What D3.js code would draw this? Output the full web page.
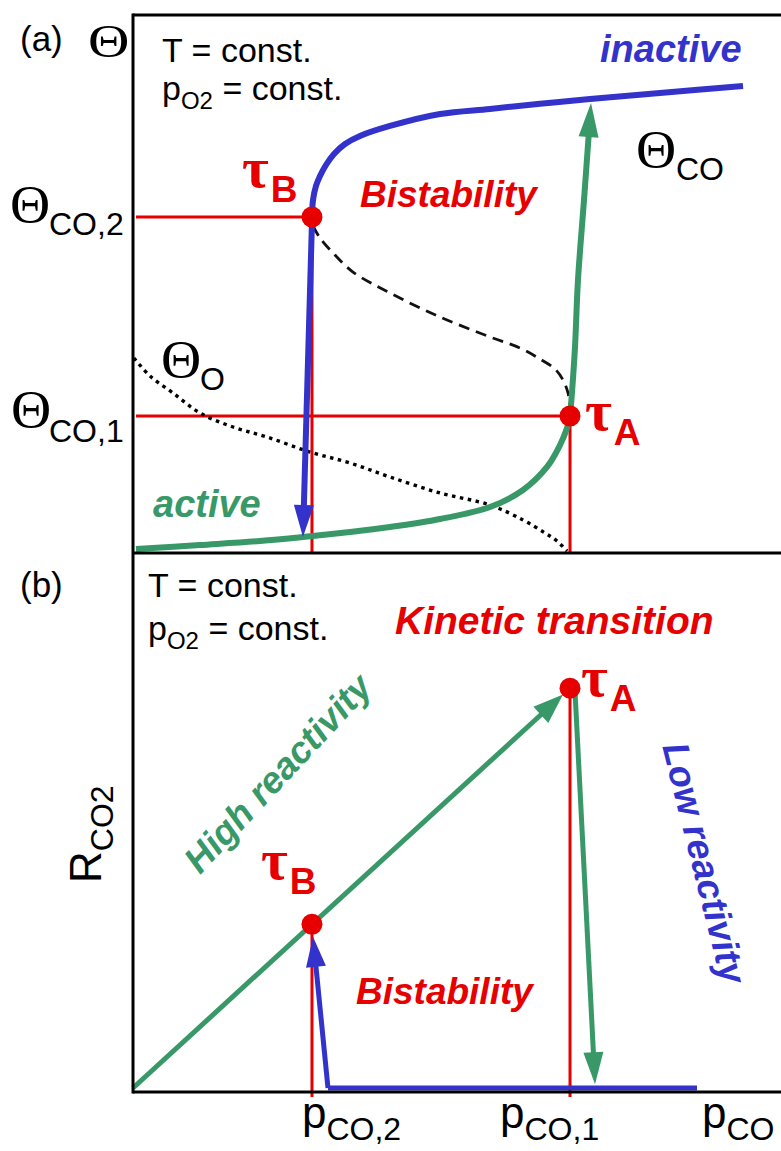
<!DOCTYPE html>
<html>
<head>
<meta charset="utf-8">
<script src="https://cdn.jsdelivr.net/npm/d3@7"></script>
<style>
  body { margin: 0; background: #fff; }
  svg { display: block; }
</style>
</head>
<body>
<svg id="chart" width="781" height="1151"></svg>
<script>
// ---- Data (normalised units: p_CO in [0,1], coverage / rate in [0,1]) ----
// critical points
const pCO2 = 0.2762;          // tau_B position
const pCO1 = 0.6744;          // tau_A position
const thetaCO2 = 0.6245;      // coverage at tau_B
const thetaCO1 = 0.2546;      // coverage at tau_A
const rateA = 0.746;          // CO2 rate at tau_A
const rateB = rateA * pCO2 / pCO1;   // rate at tau_B, on the linear high-reactivity branch

// (a) inactive (CO-poisoned) branch
const inactiveP     = [0.2762, 0.2778, 0.2824, 0.2886, 0.2978, 0.3102, 0.3272, 0.3503, 0.3966, 0.4738, 0.5509, 0.6281, 0.7052, 0.8133, 0.9414];
const inactiveTheta = [0.6245, 0.6561, 0.6822, 0.7007, 0.7212, 0.7416, 0.7602, 0.7751, 0.7937, 0.8160, 0.8254, 0.8350, 0.8439, 0.8550, 0.8680];

// (a) active branch
const activeP     = [0.0046, 0.1034, 0.1960, 0.2623, 0.3349, 0.3966, 0.4738, 0.5509, 0.6019, 0.6389, 0.6590, 0.6698, 0.6744];
const activeTheta = [0.0074, 0.0149, 0.0223, 0.0297, 0.0390, 0.0483, 0.0632, 0.0855, 0.1171, 0.1599, 0.2007, 0.2323, 0.2546];

// (a) jump from active to inactive at tau_A
const jumpUpP     = [0.6744, 0.6775, 0.6821, 0.6867, 0.6960, 0.7068];
const jumpUpTheta = [0.2546, 0.2993, 0.3829, 0.5074, 0.6561, 0.8364];

// (a) jump from inactive to active at tau_B
const jumpDownP     = [0.2762, 0.2623];
const jumpDownTheta = [0.6152, 0.0297];

// (a) unstable branch
const unstableP     = [0.2778, 0.2886, 0.3117, 0.3395, 0.3966, 0.4738, 0.5509, 0.5972, 0.6281, 0.6512, 0.6636, 0.6713, 0.6744];
const unstableTheta = [0.6078, 0.5855, 0.5539, 0.5223, 0.4833, 0.4387, 0.4015, 0.3810, 0.3606, 0.3420, 0.3216, 0.2974, 0.2658];

// (a) oxygen coverage
const oxygenP     = [0.0015, 0.0262, 0.0617, 0.1034, 0.1543, 0.2068, 0.2731, 0.3349, 0.3966, 0.4738, 0.5509, 0.6019, 0.6358, 0.6543, 0.6698];
const oxygenTheta = [0.3625, 0.3290, 0.2974, 0.2602, 0.2342, 0.2156, 0.1877, 0.1673, 0.1413, 0.1115, 0.0892, 0.0613, 0.0372, 0.0223, 0.0037];

// (b) CO2 formation rate
const highRateP = [0, 0.6636];                 // along R = k p up to tau_A
const lowRateP  = [0.3009, 0.8704];            // poisoned surface, R ~ 0
const dropP     = [0.6821, 0.7130];            // fall at tau_A
const dropR     = [0.7400, 0.0070];
const riseP     = [0.3009, 0.2778];            // recovery at tau_B
const riseR     = [0.0000, 0.2820];

// x-axis labels (subscripts) and their positions
const xLabelSubs = ["CO,2", "CO,1", "CO"];
const xLabelPos  = [0.2608, 0.5664, 0.8781];

// ---- Layout ----
const svg = d3.select("#chart");
const RED = "#e60000", BLUE = "#3333cc", GREEN = "#389868";
const SANS = "'Liberation Sans', Arial, Helvetica, sans-serif";
const SERIF = "'Liberation Serif', 'Times New Roman', serif";

const x  = d3.scaleLinear().domain([0, 1]).range([133, 781]);
const yA = d3.scaleLinear().domain([0, 1]).range([553, 15]);
const yB = d3.scaleLinear().domain([0, 1]).range([1088, 552]);

const zip = (a, b) => a.map((v, i) => [v, b[i]]);

function toPx(ps, ys, yScale) { return ps.map((p, i) => [x(p), yScale(ys[i])]); }

// draws a path whose last point is an arrow tip, with a filled triangular head
function arrowPath(g, pts, color, width, headLen, headW, curve) {
  const n = pts.length;
  const tip = pts[n - 1], prev = pts[n - 2];
  const dx = tip[0] - prev[0], dy = tip[1] - prev[1];
  const L = Math.hypot(dx, dy), ux = dx / L, uy = dy / L;
  const base = [tip[0] - ux * headLen, tip[1] - uy * headLen];
  const shaft = pts.slice(0, n - 1).concat([[base[0] + ux * 3, base[1] + uy * 3]]);
  g.append("path")
    .attr("d", d3.line().curve(curve || d3.curveLinear)(shaft))
    .attr("fill", "none").attr("stroke", color).attr("stroke-width", width);
  const nx = -uy, ny = ux;
  g.append("path")
    .attr("d", `M${tip[0]},${tip[1]}L${base[0] + nx * headW / 2},${base[1] + ny * headW / 2}L${base[0] - nx * headW / 2},${base[1] - ny * headW / 2}Z`)
    .attr("fill", color);
}

function richText(g, px, py, runs, fill, extra) {
  const t = g.append("text").attr("x", px).attr("y", py).attr("fill", fill || "#000");
  runs.forEach(r => {
    const s = t.append("tspan").text(r.text)
      .attr("font-size", r.size)
      .attr("font-family", r.family || SANS);
    if (r.weight) s.attr("font-weight", r.weight);
    if (r.style) s.attr("font-style", r.style);
    if (r.dy) s.attr("dy", r.dy);
    if (r.dx) s.attr("dx", r.dx);
  });
  if (extra) extra(t);
  return t;
}

// serif theta (slightly widened), optionally followed by a sans subscript
function thetaLabel(g, px, py, size, stretch, sub, subX, subY) {
  g.append("text")
    .attr("transform", `translate(${px},${py}) scale(${stretch},1)`)
    .attr("font-family", SERIF).attr("font-size", size)
    .attr("fill", "#000")
    .text("Θ");
  if (sub) {
    g.append("text").attr("x", subX).attr("y", subY)
      .attr("font-family", SANS).attr("font-size", 32).attr("fill", "#000")
      .text(sub);
  }
}

const gA = svg.append("g");
const gB = svg.append("g");

// ---- Panel (a): coverage vs p_CO ----
// guide lines to the critical points
gA.append("line").attr("x1", x(0) + 3).attr("x2", x(pCO2)).attr("y1", yA(thetaCO2)).attr("y2", yA(thetaCO2))
  .attr("stroke", RED).attr("stroke-width", 3);
gA.append("line").attr("x1", x(pCO2)).attr("x2", x(pCO2)).attr("y1", yA(thetaCO2)).attr("y2", yA(0))
  .attr("stroke", RED).attr("stroke-width", 3);
gA.append("line").attr("x1", x(0) + 3).attr("x2", x(pCO1)).attr("y1", yA(thetaCO1)).attr("y2", yA(thetaCO1))
  .attr("stroke", RED).attr("stroke-width", 3);
gA.append("line").attr("x1", x(pCO1)).attr("x2", x(pCO1)).attr("y1", yA(thetaCO1)).attr("y2", yA(0))
  .attr("stroke", RED).attr("stroke-width", 3);

// oxygen coverage (dotted)
gA.append("path")
  .attr("d", d3.line().curve(d3.curveCatmullRom)(toPx(oxygenP, oxygenTheta, yA)))
  .attr("fill", "none").attr("stroke", "#000").attr("stroke-width", 3.4)
  .attr("stroke-dasharray", "3.5,4.5");

// unstable branch (dashed)
gA.append("path")
  .attr("d", d3.line().curve(d3.curveCatmullRom)(toPx(unstableP, unstableTheta, yA)))
  .attr("fill", "none").attr("stroke", "#111").attr("stroke-width", 2.8)
  .attr("stroke-dasharray", "11,7");

// active branch
gA.append("path")
  .attr("d", d3.line().curve(d3.curveCatmullRom)(toPx(activeP, activeTheta, yA)))
  .attr("fill", "none").attr("stroke", GREEN).attr("stroke-width", 6);

// jump up at tau_A
arrowPath(gA, toPx(jumpUpP, jumpUpTheta, yA), GREEN, 6, 34, 20, d3.curveCatmullRom);

// inactive branch
gA.append("path")
  .attr("d", d3.line().curve(d3.curveCatmullRom)(toPx(inactiveP, inactiveTheta, yA)))
  .attr("fill", "none").attr("stroke", BLUE).attr("stroke-width", 6);

// jump down at tau_B
arrowPath(gA, toPx(jumpDownP, jumpDownTheta, yA), BLUE, 6, 32, 20);

// critical points
gA.append("circle").attr("cx", x(pCO2)).attr("cy", yA(thetaCO2)).attr("r", 10.5).attr("fill", RED);
gA.append("circle").attr("cx", x(pCO1)).attr("cy", yA(thetaCO1)).attr("r", 10.5).attr("fill", RED);

// ---- Panel (b): CO2 rate vs p_CO ----
gB.append("line").attr("x1", x(pCO2)).attr("x2", x(pCO2)).attr("y1", yB(rateB)).attr("y2", yB(0) + 9)
  .attr("stroke", RED).attr("stroke-width", 3);
gB.append("line").attr("x1", x(pCO1)).attr("x2", x(pCO1)).attr("y1", yB(rateA)).attr("y2", yB(0) + 9)
  .attr("stroke", RED).attr("stroke-width", 3);

// high reactivity branch
arrowPath(gB, zip(highRateP, highRateP.map(p => rateA * p / pCO1)).map(d => [x(d[0]), yB(d[1])]),
  GREEN, 5, 30, 22);

// low reactivity branch
gB.append("line").attr("x1", x(lowRateP[0])).attr("x2", x(lowRateP[1])).attr("y1", yB(0)).attr("y2", yB(0))
  .attr("stroke", BLUE).attr("stroke-width", 5);

// transitions
arrowPath(gB, toPx(dropP, dropR, yB), GREEN, 5, 32, 20);
arrowPath(gB, toPx(riseP, riseR, yB), BLUE, 5, 30, 20);

gB.append("circle").attr("cx", x(pCO2)).attr("cy", yB(rateB)).attr("r", 10.5).attr("fill", RED);
gB.append("circle").attr("cx", x(pCO1)).attr("cy", yB(rateA)).attr("r", 10.5).attr("fill", RED);

// ---- Frame ----
const frame = svg.append("g").attr("stroke", "#000").attr("stroke-width", 3);
frame.append("line").attr("x1", x(0)).attr("x2", x(1)).attr("y1", yA(1)).attr("y2", yA(1));
frame.append("line").attr("x1", x(0)).attr("x2", x(1)).attr("y1", yA(0)).attr("y2", yA(0));
frame.append("line").attr("x1", x(0)).attr("x2", x(1)).attr("y1", yB(0) + 4).attr("y2", yB(0) + 4);
frame.append("line").attr("x1", x(0)).attr("x2", x(0)).attr("y1", yA(1) - 1.5).attr("y2", yB(0) + 5.5);

// ---- Text ----
const T = svg.append("g");

// panel letters and axis symbols
richText(T, 20, 51, [{ text: "(a)", size: 35 }]);
thetaLabel(T, 88, 57, 47, 1.22);
richText(T, 20, 597, [{ text: "(b)", size: 35 }]);

// conditions
[[162, 62, 100], [148, 597, 640]].forEach(([px, y1, y2]) => {
  richText(T, px, y1, [{ text: "T = const.", size: 34 }]);
  richText(T, px, y2, [
    { text: "p", size: 34 },
    { text: "O2", size: 24, dy: 9 },
    { text: " = const.", size: 34, dy: -9 }
  ]);
});

// coverage labels
thetaLabel(T, 10, 222, 53, 1.05, "CO,2", 49, 235);
thetaLabel(T, 11, 427, 53, 1.05, "CO,1", 49, 442);
thetaLabel(T, 161, 377, 53, 1.05, "O", 200, 390);
thetaLabel(T, 636, 167, 53, 1.05, "CO", 676, 180);

// branch names
richText(T, 600, 62, [{ text: "inactive", size: 38, weight: "bold", style: "italic" }], BLUE);
richText(T, 153, 517, [{ text: "active", size: 38, weight: "bold", style: "italic" }], GREEN);
richText(T, 360, 207, [{ text: "Bistability", size: 37, weight: "bold", style: "italic" }], RED);
richText(T, 356, 1004, [{ text: "Bistability", size: 37, weight: "bold", style: "italic" }], RED);
richText(T, 395, 634, [{ text: "Kinetic transition", size: 39, weight: "bold", style: "italic" }], RED);

// critical point names
function tauLabel(px, py, letter) {
  richText(T, px, py, [
    { text: "τ", size: 58, family: SERIF, weight: "bold" },
    { text: letter, size: 37, weight: "bold", dy: 15, dx: 2 }
  ], RED);
}
tauLabel(x(pCO2) - 70, yA(thetaCO2) - 30, "B");
tauLabel(x(pCO1) + 15, yA(thetaCO1) + 14, "A");
tauLabel(x(pCO1) + 11, yB(rateA) + 8, "A");
tauLabel(x(pCO2) - 51, yB(rateB) - 45, "B");

// rotated branch descriptions
richText(T, 0, 0, [{ text: "High reactivity", size: 37, weight: "bold", style: "italic" }], GREEN,
  t => t.attr("text-anchor", "middle").attr("transform", "translate(287,782) rotate(-47)"));
richText(T, 0, 0, [{ text: "Low reactivity", size: 37, weight: "bold", style: "italic" }], BLUE,
  t => t.attr("text-anchor", "middle").attr("transform", "translate(692,866) rotate(76)"));

// rate axis title
richText(T, 0, 0, [
  { text: "R", size: 44 },
  { text: "CO2", size: 32, dy: 12 }
], "#000", t => t.attr("transform", "translate(101,883) rotate(-90)"));

// p_CO axis labels
xLabelSubs.forEach((s, i) => {
  richText(T, x(xLabelPos[i]), 1128, [
    { text: "p", size: 44 },
    { text: s, size: 32, dy: 12 }
  ]);
});
</script>
</body>
</html>
